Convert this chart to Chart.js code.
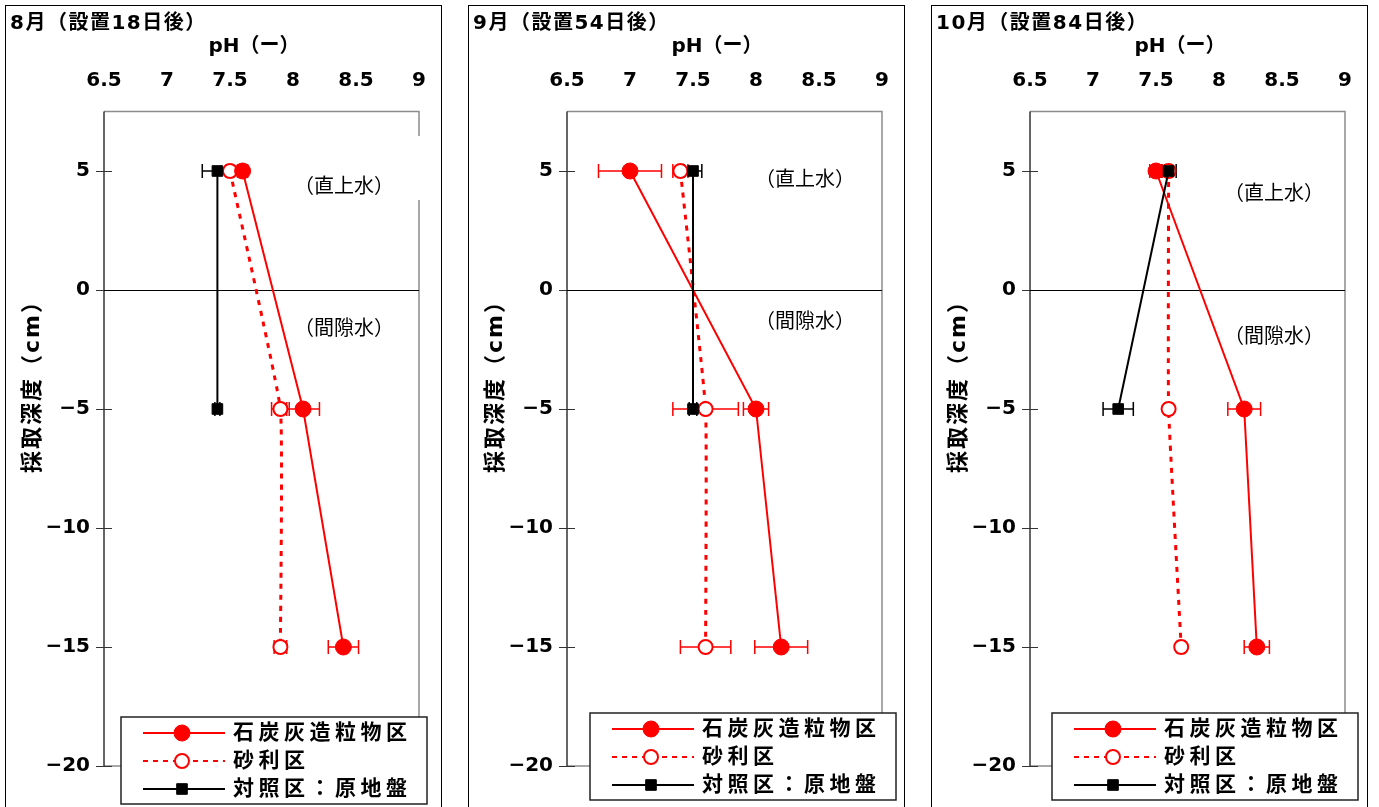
<!DOCTYPE html>
<html>
<head>
<meta charset="utf-8">
<script src="https://cdn.jsdelivr.net/npm/chart.js@4.4.1/dist/chart.umd.min.js"></script>
<style>
body { margin: 0; background: #fff; width: 1379px; height: 807px; overflow: hidden; position: relative; }
.panel { position: absolute; top: 5px; width: 437px; height: 840px; border: 1px solid #000; box-sizing: border-box; background: #fff; }
.panel canvas { position: absolute; left: 0; top: 0; }
</style>
</head>
<body>
<div class="panel" style="left:5px"><canvas id="c0" width="435" height="801"></canvas></div>
<div class="panel" style="left:468px"><canvas id="c1" width="435" height="801"></canvas></div>
<div class="panel" style="left:931px"><canvas id="c2" width="435" height="801"></canvas></div>
<script>
// sampling depths (cm), 0 = sediment surface
var depths = [5, -5, -15];
var controlDepths = [5, -5];

var panelTitles = ['8月（設置18日後）', '9月（設置54日後）', '10月（設置84日後）'];
var seriesNames = ['石炭灰造粒物区', '砂利区', '対照区：原地盤'];
var xTicks = [6.5, 7, 7.5, 8, 8.5, 9];
var yTicks = [5, 0, -5, -10, -15, -20];

// pH per month (Aug, Sep, Oct) and the +/- spread
var coalPH    = [[7.6, 8.08, 8.4], [7.0, 8.0, 8.2], [7.5, 8.2, 8.3]];
var coalErr   = [[0.04, 0.13, 0.12], [0.25, 0.1, 0.21], [0.05, 0.13, 0.1]];
var gravelPH  = [[7.5, 7.9, 7.9], [7.4, 7.6, 7.6], [7.6, 7.6, 7.7]];
var gravelErr = [[0.03, 0.07, 0.05], [0.06, 0.26, 0.2], [0.03, 0.03, 0.03]];
var controlPH  = [[7.4, 7.4], [7.5, 7.5], [7.6, 7.2]];
var controlErr = [[0.12, 0.02], [0.07, 0.03], [0.06, 0.12]];

var FONT = '"DejaVu Sans", "Noto Sans CJK JP", sans-serif';
var JP = '"Noto Sans CJK JP", sans-serif';
var RED = '#ff0000';

// where the free text and the legend box sit in each canvas
var panelLayout = [
  { notes: [[288, 179], [288, 321]], mask: true, legend: [115, 711] },
  { notes: [[286, 172], [286, 314]], mask: false, legend: [121, 707] },
  { notes: [[292, 186], [292, 329]], mask: false, legend: [120, 707] }
];

function spacedText(ctx, s, x, y, spacing, align) {
  var w = 0;
  var chars = Array.from(s);
  chars.forEach(function (c) { w += ctx.measureText(c).width + spacing; });
  w -= spacing;
  var cx = align === 'center' ? x - w / 2 : (align === 'right' ? x - w : x);
  ctx.textAlign = 'left';
  chars.forEach(function (c) {
    ctx.fillText(c, cx, y);
    cx += ctx.measureText(c).width + spacing;
  });
}

function drawMarker(ctx, ds, x, y) {
  Chart.helpers.drawPoint(ctx, {
    pointStyle: ds.pointStyle,
    radius: ds.pointRadius,
    borderWidth: ds.pointBorderWidth
  }, x, y);
}

// plot frame, crossing tick marks, zero line and error bars
var framePlugin = {
  id: 'frame',
  beforeDatasetsDraw: function (chart) {
    var ctx = chart.ctx, a = chart.chartArea, ys = chart.scales.y, xs = chart.scales.x;
    ctx.save();
    ctx.strokeStyle = '#8c8c8c';
    ctx.lineWidth = 1.5;
    ctx.beginPath();
    ctx.moveTo(a.left, a.top); ctx.lineTo(a.right, a.top);
    ctx.lineTo(a.right, a.bottom); ctx.lineTo(a.left, a.bottom);
    ctx.stroke();
    ctx.strokeStyle = '#333';
    ctx.beginPath();
    ctx.moveTo(a.left, a.top); ctx.lineTo(a.left, a.bottom);
    ctx.stroke();
    ctx.lineWidth = 1;
    ys.ticks.forEach(function (t) {
      var py = Math.round(ys.getPixelForValue(t.value)) + 0.5;
      ctx.beginPath();
      ctx.moveTo(a.left - 8, py); ctx.lineTo(a.left + 8, py);
      ctx.stroke();
    });
    var y0 = Math.round(ys.getPixelForValue(0)) + 0.5;
    ctx.strokeStyle = '#000';
    ctx.beginPath();
    ctx.moveTo(a.left, y0); ctx.lineTo(a.right, y0);
    ctx.stroke();

    chart.data.datasets.forEach(function (ds) {
      ctx.strokeStyle = ds.borderColor;
      ctx.lineWidth = 1.5;
      ds.data.forEach(function (pt, i) {
        var e = ds.errorBars[i];
        var x1 = xs.getPixelForValue(pt.x - e), x2 = xs.getPixelForValue(pt.x + e);
        var py = ys.getPixelForValue(pt.y);
        ctx.beginPath();
        ctx.moveTo(x1, py); ctx.lineTo(x2, py);
        ctx.moveTo(x1, py - 7); ctx.lineTo(x1, py + 7);
        ctx.moveTo(x2, py - 7); ctx.lineTo(x2, py + 7);
        ctx.stroke();
      });
    });
    ctx.restore();
  },
  afterDraw: function (chart) {
    var ctx = chart.ctx, o = chart.options.plugins.frame;
    var lay = o.layout;
    ctx.save();
    ctx.fillStyle = '#000';
    ctx.textBaseline = 'middle';

    // panel heading
    ctx.font = 'bold 20px ' + FONT;
    spacedText(ctx, o.title, 4, 18, 1.5, 'left');
    // axis titles
    spacedText(ctx, 'pH（ー）', 248, 41, 0, 'center');
    ctx.save();
    ctx.translate(27, 376);
    ctx.rotate(-Math.PI / 2);
    ctx.font = 'bold 22px ' + FONT;
    spacedText(ctx, '採取深度（cm）', 0, 0, 2, 'center');
    ctx.restore();

    // region labels
    if (lay.mask) {
      ctx.fillStyle = '#fff';
      ctx.fillRect(290, 130, 126, 64);
      ctx.fillStyle = '#000';
    }
    ctx.font = '20px ' + JP;
    spacedText(ctx, '（直上水）', lay.notes[0][0], lay.notes[0][1], 0, 'left');
    spacedText(ctx, '（間隙水）', lay.notes[1][0], lay.notes[1][1], 0, 'left');

    // legend
    var lx = lay.legend[0], ly = lay.legend[1];
    ctx.fillStyle = '#fff';
    ctx.fillRect(lx, ly, 306, 87);
    ctx.strokeStyle = '#222';
    ctx.lineWidth = 1.5;
    ctx.strokeRect(lx, ly, 306, 87);
    var rows = [16, 44, 72];
    chart.data.datasets.forEach(function (ds, i) {
      var ry = ly + rows[i];
      ctx.save();
      ctx.strokeStyle = ds.borderColor;
      ctx.lineWidth = ds.borderDash.length ? 2 : ds.borderWidth;
      ctx.setLineDash(ds.borderDash.length ? [5, 5] : []);
      ctx.beginPath();
      ctx.moveTo(lx + 22, ry); ctx.lineTo(lx + 104, ry);
      ctx.stroke();
      ctx.setLineDash([]);
      ctx.fillStyle = ds.pointBackgroundColor;
      ctx.strokeStyle = ds.pointBorderColor;
      ctx.lineWidth = ds.pointBorderWidth;
      drawMarker(ctx, ds, lx + 61, ry);
      ctx.restore();
      ctx.fillStyle = '#000';
      ctx.font = 'bold 21px ' + FONT;
      spacedText(ctx, ds.label, lx + 112, ry + 1, 4.5, 'left');
    });
    ctx.restore();
  }
};

function toPoints(ph, d) {
  return ph.map(function (v, i) { return { x: v, y: d[i] }; });
}

function noPadding(s) {
  s.paddingLeft = 0; s.paddingRight = 0;
  s.paddingTop = 0; s.paddingBottom = 0;
}

function makePanel(p) {
  var datasets = [
    {
      label: seriesNames[0], data: toPoints(coalPH[p], depths), errorBars: coalErr[p],
      order: 2, showLine: true, tension: 0,
      borderColor: RED, borderWidth: 2, borderDash: [],
      pointStyle: 'circle', pointRadius: 8, pointBorderWidth: 1,
      pointBackgroundColor: RED, pointBorderColor: RED
    },
    {
      label: seriesNames[1], data: toPoints(gravelPH[p], depths), errorBars: gravelErr[p],
      order: 3, showLine: true, tension: 0.1,
      borderColor: RED, borderWidth: 3, borderDash: [5, 6],
      pointStyle: 'circle', pointRadius: 7, pointBorderWidth: 2,
      pointBackgroundColor: '#fff', pointBorderColor: RED
    },
    {
      label: seriesNames[2], data: toPoints(controlPH[p], controlDepths), errorBars: controlErr[p],
      order: 1, showLine: true, tension: 0,
      borderColor: '#000', borderWidth: 2, borderDash: [],
      pointStyle: 'rect', pointRadius: 7.5, pointBorderWidth: 1,
      pointBackgroundColor: '#000', pointBorderColor: '#000'
    }
  ];

  new Chart(document.getElementById('c' + p), {
    type: 'scatter',
    data: { datasets: datasets },
    plugins: [framePlugin],
    options: {
      responsive: false,
      animation: false,
      devicePixelRatio: 1,
      layout: { padding: { left: 0, top: 0, right: 22, bottom: 41 } },
      plugins: {
        legend: { display: false },
        tooltip: { enabled: false },
        frame: { title: panelTitles[p], layout: panelLayout[p] }
      },
      scales: {
        x: {
          type: 'linear', position: 'top', min: xTicks[0], max: xTicks[xTicks.length - 1],
          afterBuildTicks: function (s) { s.ticks = xTicks.map(function (v) { return { value: v }; }); },
          ticks: {
            autoSkip: false, maxRotation: 0, padding: 19, color: '#000',
            font: { family: FONT, size: 20, weight: 'bold' },
            callback: function (v) { return String(v); }
          },
          grid: { display: false, drawTicks: false },
          border: { display: false },
          afterFit: function (s) { s.height = 105.5; noPadding(s); }
        },
        y: {
          type: 'linear', min: -20, max: 7.5,
          afterBuildTicks: function (s) { s.ticks = yTicks.map(function (v) { return { value: v }; }); },
          ticks: {
            padding: 14, color: '#000',
            font: { family: FONT, size: 20, weight: 'bold' },
            callback: function (v) { return v < 0 ? '−' + Math.abs(v) : String(v); }
          },
          grid: { display: false, drawTicks: false },
          border: { display: false },
          afterFit: function (s) { s.width = 98; noPadding(s); }
        }
      }
    }
  });
}

[0, 1, 2].forEach(makePanel);
</script>
</body>
</html>
